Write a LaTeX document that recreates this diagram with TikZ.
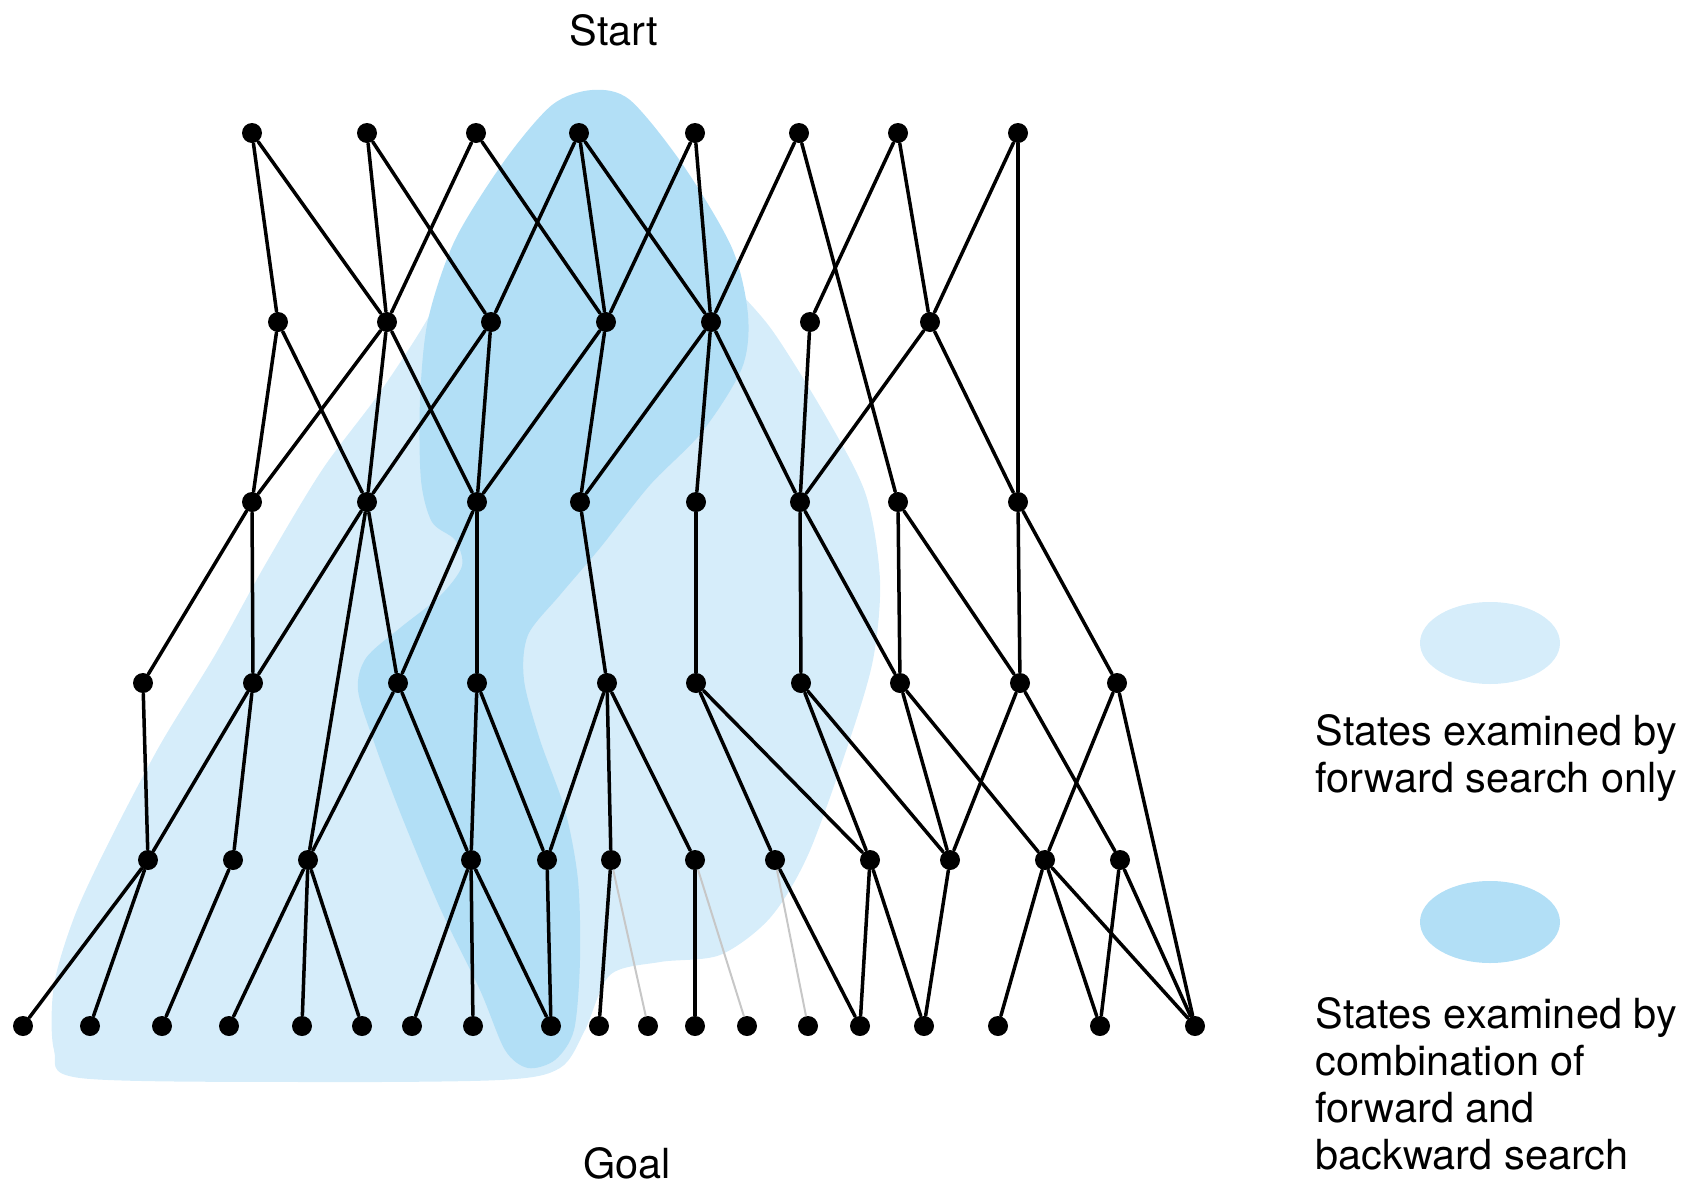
\documentclass[tikz,border=0pt]{standalone}
\usepackage{fontspec}
\setmainfont{TeX Gyre Heros}
\usetikzlibrary{shapes.geometric}
\definecolor{fwdblue}{RGB}{214,237,250}
\definecolor{bothblue}{RGB}{178,223,246}
\begin{document}
\begin{tikzpicture}[x=0.1mm,y=-0.1mm, line join=round, line cap=round,
  font=\fontsize{11.8}{13.3}\selectfont,
  dot/.style={circle,fill=black,inner sep=0pt,minimum size=2mm},
  edge/.style={line width=0.35mm},
  faint/.style={line width=0.2mm,draw=black!22},
  keyblob/.style={ellipse,inner sep=0pt,minimum width=14mm,minimum height=8.2mm},
  keytext/.style={anchor=base west,align=left,inner sep=0pt}]
\useasboundingbox (0,0) rectangle (1686,1182);
% searched regions
\fill[fwdblue] plot[smooth cycle] coordinates {(600,150) (640,160) (680,210) (722,272) (772,330) (828,420) (866,495) (880,580) (873,660) (848,745) (808,855) (770,918) (720,955) (660,962) (610,975) (585,1030) (560,1068) (500,1080) (300,1082) (80,1078) (54,1050) (54,985) (75,915) (110,840) (160,745) (215,655) (265,565) (322,470) (378,395) (424,325) (462,255) (515,180) (560,150)};
\fill[bothblue] plot[smooth cycle] coordinates {(592,90) (630,100) (683,165) (732,248) (748,315) (742,368) (702,432) (650,485) (600,548) (560,595) (528,635) (524,680) (540,740) (565,810) (578,880) (580,960) (574,1030) (555,1060) (528,1068) (505,1050) (480,990) (440,908) (400,812) (374,742) (358,690) (366,658) (400,628) (440,596) (462,566) (455,540) (432,522) (421,480) (420,400) (428,320) (455,240) (505,160) (552,105)};
% states
\foreach \x [count=\i from 0] in {252,367,476,579,695,799,898,1018} \node[dot] (a\i) at (\x,133) {};
\foreach \x [count=\i from 0] in {278,387,491,606,711,810,930} \node[dot] (b\i) at (\x,322) {};
\foreach \x [count=\i from 0] in {252,367,477,580,696,800,898,1018} \node[dot] (c\i) at (\x,502) {};
\foreach \x [count=\i from 0] in {143,253,398,477,607,696,801,900,1020,1117} \node[dot] (d\i) at (\x,683) {};
\foreach \x [count=\i from 0] in {148,233,308,471,547,611,695,775,870,950,1045,1120} \node[dot] (e\i) at (\x,860) {};
\foreach \x [count=\i from 0] in {23,90,162,229,302,362,412,473,551,599,648,695,747,808,860,924,998,1100,1195} \node[dot] (f\i) at (\x,1026) {};
% moves
\foreach \u/\v in {a0/b0,a0/b1,a1/b1,a1/b2,a2/b1,a2/b3,a3/b2,a3/b3,a3/b4,a4/b3,a4/b4,a5/b4,a5/c6,a6/b5,a6/b6,a7/b6,a7/c7,
  b0/c0,b0/c1,b1/c0,b1/c1,b1/c2,b2/c1,b2/c2,b3/c2,b3/c3,b4/c3,b4/c4,b4/c5,b5/c5,b6/c5,b6/c7,
  c0/d0,c0/d1,c1/d1,c1/d2,c1/e2,c2/d2,c2/d3,c3/d4,c4/d5,c5/d6,c5/d7,c6/d7,c6/d8,c7/d8,c7/d9,
  d0/e0,d1/e0,d1/e1,d2/e2,d2/e3,d3/e3,d3/e4,d4/e4,d4/e5,d4/e6,d5/e7,d5/e8,d6/e8,d6/e9,d7/e9,d7/e10,d8/e9,d8/e11,d9/e10,d9/f18,
  e0/f0,e0/f1,e1/f2,e2/f3,e2/f4,e2/f5,e3/f6,e3/f7,e3/f8,e4/f8,e5/f9,e6/f11,e7/f14,e8/f14,e8/f15,e9/f15,e10/f16,e10/f17,e10/f18,e11/f17,e11/f18}
  \draw[edge] (\u) -- (\v);
\foreach \u/\v in {e5/f10,e6/f12,e7/f13} \draw[faint] (\u) -- (\v);
\node (start) at (614,30) {Start};
\node (goal) at (627,1163) {Goal};
% key
\node[keyblob,fill=fwdblue] (keyfwd) at (1490,643) {};
\node[keyblob,fill=bothblue] (keyboth) at (1490,922) {};
\node[keytext] (keyfwdtext) at (1315,792) {States examined by\\forward search only};
\node[keytext] (keybothtext) at (1315,1169) {States examined by\\combination of\\forward and\\backward search};
\end{tikzpicture}
\end{document}
